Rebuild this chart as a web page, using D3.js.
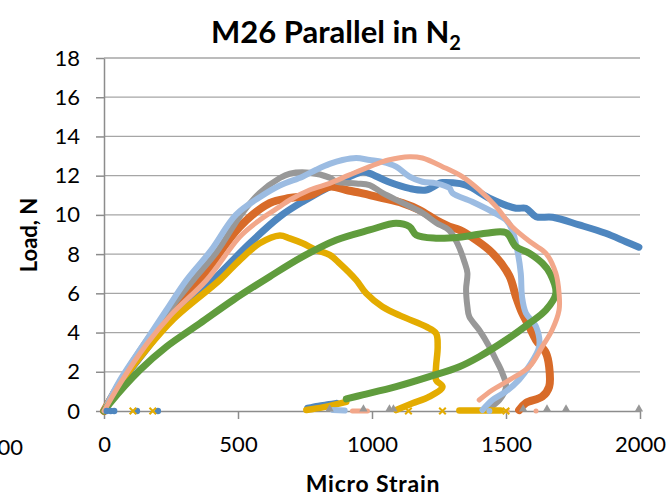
<!DOCTYPE html>
<html>
<head>
<meta charset="utf-8">
<script src="https://cdn.jsdelivr.net/npm/d3@7"></script>
<style>
  body { margin: 0; background: #fff; }
  svg { display: block; font-family: Lato, "Open Sans", sans-serif; }
</style>
</head>
<body>
<div id="chart"></div>
<script>
// values: [micro strain, load N]
const blue = [[0,0],[50,1.2],[150,3.0],[250,4.7],[408,6.68],[540,8.5],[656,9.91],[741,10.67],[867,11.61],[965,12.2],[991,12.12],[1061,11.69],[1140,11.35],[1202,11.27],[1251,11.61],[1263,11.65],[1351,11.52],[1438,10.85],[1537,10.34],[1574,10.34],[1612,9.91],[1674,9.88],[1773,9.49],[1872,9.06],[1947,8.63],[1996,8.35]];
const orange = [[0,0],[60,1.4],[159,3.4],[240,4.9],[358,6.68],[507,9.4],[618,10.6],[693,10.86],[767,11.0],[842,11.44],[904,11.27],[965,11.1],[1039,10.86],[1114,10.6],[1177,10.25],[1239,9.74],[1289,9.4],[1326,9.23],[1388,8.72],[1449,8.06],[1512,6.9],[1537,5.83],[1560,5.0],[1587,4.3],[1612,3.62],[1649,2.96],[1661,2.26],[1661,1.24],[1635,0.73],[1574,0.41],[1549,0.05]];
const gray = [[0,0],[60,1.5],[159,3.6],[240,5.1],[333,6.68],[420,8.1],[511,10.0],[581,11.12],[656,11.88],[693,12.1],[767,12.15],[842,11.9],[867,11.69],[941,11.6],[991,11.52],[1039,11.12],[1114,10.61],[1188,10.1],[1239,9.6],[1289,9.2],[1320,8.5],[1345,7.6],[1356,7.04],[1351,6.2],[1356,5.32],[1363,4.81],[1400,4.13],[1438,3.28],[1463,2.6],[1486,1.94],[1500,1.24],[1475,0.56],[1425,0.05]];
const yellow = [[0,0],[50,1.2],[150,3.0],[260,4.7],[432,6.68],[507,7.7],[581,8.55],[656,8.95],[693,8.8],[741,8.55],[792,8.21],[842,7.96],[879,7.53],[941,6.68],[978,6.0],[1039,5.32],[1114,4.81],[1202,4.3],[1239,3.96],[1245,3.28],[1239,2.26],[1239,1.58],[1263,1.24],[1214,0.73],[1151,0.39],[1090,0.05]];
const lightBlue = [[0,0],[60,1.58],[159,3.62],[233,5.15],[308,6.68],[400,8.2],[492,10.0],[581,10.9],[656,11.5],[741,11.95],[792,12.3],[842,12.6],[890,12.8],[941,12.9],[991,12.8],[1039,12.7],[1090,12.46],[1140,11.95],[1188,11.69],[1239,11.61],[1289,11.37],[1300,11.12],[1374,10.67],[1449,10.16],[1500,9.74],[1523,9.23],[1542,8.21],[1555,7.04],[1560,5.8],[1574,5.0],[1612,4.3],[1624,3.3],[1587,2.3],[1549,1.6],[1500,1.0],[1449,0.56],[1412,0.05]];
const green = [[0,0],[22,0.4],[134,2.09],[233,3.28],[358,4.47],[482,5.66],[618,6.85],[741,7.87],[867,8.72],[991,9.23],[1090,9.57],[1140,9.4],[1165,8.97],[1239,8.81],[1326,8.86],[1425,9.06],[1500,9.09],[1537,8.38],[1587,8.04],[1636,7.53],[1665,7.0],[1686,6.0],[1649,5.15],[1587,4.47],[1500,3.62],[1400,2.77],[1326,2.26],[1214,1.75],[1090,1.24],[965,0.82],[904,0.62]];
const salmon = [[0,0],[60,1.4],[159,3.4],[250,4.9],[383,6.68],[507,8.89],[581,9.74],[656,10.42],[693,10.76],[767,11.27],[842,11.61],[916,12.04],[991,12.46],[1061,12.8],[1140,12.97],[1188,12.9],[1263,12.46],[1337,11.95],[1400,11.27],[1463,10.42],[1523,9.4],[1598,8.55],[1649,8.04],[1686,7.02],[1698,6.0],[1698,5.15],[1672,4.13],[1635,3.28],[1587,2.26],[1512,1.58],[1449,1.07],[1400,0.56]];

// short pieces lying on the axis after the break
const blueTail = [[760,0.14],[800,0.25],[840,0.33],[867,0.39]];
const yellowTail = [[755,0.05],[820,0.2],[904,0.47]];
const yellowBar = [[1326,0.03],[1480,0.03]];
const lightBlueTail = [[854,0.05],[898,0.02]];
const salmonTail = [[927,0],[983,0]];

// stray points on the axis
const bluePts = [10, 25, 38, 123, 201];
const yellowPts = [108, 182, 1136, 1263, 1500];
const grayPts = [842, 968, 1065, 1080, 1564, 1653, 1724, 1996];
const salmonPts = [1505, 1612];
const lightBluePts = [1438];

const yTicks = [0, 2, 4, 6, 8, 10, 12, 14, 16, 18];
const xTicks = [0, 500, 1000, 1500, 2000];

const colors = {
  blue: '#4e86bf', orange: '#d86b29', gray: '#989898', yellow: '#e4ac00',
  lightBlue: '#9cbce2', green: '#609c3d', salmon: '#f2a78a',
};

const width = 671;
const height = 496;
const svg = d3.select('#chart').append('svg').attr('width', width).attr('height', height);

const x = d3.scaleLinear().domain([0, 2000]).range([104, 640]);
const y = d3.scaleLinear().domain([0, 18]).range([411, 58]);

// horizontal gridlines
svg.append('g').selectAll('line').data(yTicks.filter(d => d > 0)).join('line')
  .attr('x1', x(0)).attr('x2', x(2000))
  .attr('y1', d => y(d)).attr('y2', d => y(d))
  .attr('stroke', '#a6a6a6').attr('stroke-width', 1.3);

// axes
const yAxis = svg.append('g').attr('transform', `translate(${x(0)},0)`)
  .call(d3.axisLeft(y).tickValues(yTicks).tickSize(8).tickPadding(16).tickSizeOuter(0));
const xAxis = svg.append('g').attr('transform', `translate(0,${y(0)})`)
  .call(d3.axisBottom(x).tickValues(xTicks).tickFormat(d3.format('d'))
    .tickSize(8).tickPadding(17).tickSizeOuter(0));
[xAxis, yAxis].forEach((g) => {
  g.select('.domain').attr('stroke', '#8c8c8c').attr('stroke-width', 1.5);
  g.selectAll('.tick line').attr('stroke', '#8c8c8c').attr('stroke-width', 1.5);
  g.selectAll('.tick text').attr('fill', '#000').style('font-size', '22px').style('font-family', 'Lato, sans-serif');
});

// tail of the neighbouring chart's last label, cut by the frame
svg.append('text').attr('x', 23).attr('y', y(0) + 44).attr('text-anchor', 'end')
  .style('font-size', '22px').text(xTicks[xTicks.length - 1]);

// the data are dense marker runs, a smooth line through the read points stands in for them
const line = d3.line().x(d => x(d[0])).y(d => y(d[1])).curve(d3.curveCatmullRom.alpha(0.5));

const series = [
  { data: blue, tail: [blueTail], color: colors.blue, w: 7 },
  { data: orange, tail: [], color: colors.orange, w: 8 },
  { data: gray, tail: [], color: colors.gray, w: 6 },
  { data: yellow, tail: [yellowTail, yellowBar], color: colors.yellow, w: 6.5 },
  { data: lightBlue, tail: [lightBlueTail], color: colors.lightBlue, w: 6 },
  { data: green, tail: [], color: colors.green, w: 7 },
  { data: salmon, tail: [salmonTail], color: colors.salmon, w: 5 },
];

const plot = svg.append('g');
series.forEach((s) => {
  [s.data].concat(s.tail).forEach((pts) => {
    plot.append('path').attr('d', line(pts)).attr('fill', 'none')
      .attr('stroke', s.color).attr('stroke-width', s.w)
      .attr('stroke-linejoin', 'round').attr('stroke-linecap', 'round');
  });
});

// markers on the axis
plot.selectAll('circle.b').data(bluePts).join('circle')
  .attr('cx', d => x(d)).attr('cy', y(0)).attr('r', 3.2).attr('fill', colors.blue);
plot.selectAll('circle.lb').data(lightBluePts).join('circle')
  .attr('cx', d => x(d)).attr('cy', y(0)).attr('r', 3).attr('fill', colors.lightBlue);
plot.selectAll('circle.s').data(salmonPts).join('circle')
  .attr('cx', d => x(d)).attr('cy', y(0)).attr('r', 2.5).attr('fill', colors.salmon);
plot.selectAll('path.tri').data(grayPts).join('path')
  .attr('d', d3.symbol(d3.symbolTriangle, 30))
  .attr('transform', d => `translate(${x(d)},${y(0) - 2})`).attr('fill', colors.gray);
plot.selectAll('path.cross').data(yellowPts).join('path')
  .attr('d', d3.symbol(d3.symbolX, 30))
  .attr('transform', d => `translate(${x(d)},${y(0)})`)
  .attr('stroke', colors.yellow).attr('stroke-width', 2).attr('fill', 'none');

// titles
const title = svg.append('text').attr('x', 336).attr('y', 43).attr('text-anchor', 'middle')
  .style('font-size', '31px').style('font-weight', 'bold');
title.append('tspan').text('M26 Parallel in N');
title.append('tspan').attr('dy', 7).style('font-size', '20px').text('2');

svg.append('text').attr('x', 373).attr('y', 492).attr('text-anchor', 'middle')
  .style('font-size', '23px').style('font-weight', 'bold').style('letter-spacing', '0.8px')
  .text('Micro Strain');

svg.append('text').attr('transform', 'translate(37,235) rotate(-90)').attr('text-anchor', 'middle')
  .style('font-size', '22px').style('font-weight', 'bold').text('Load, N');
</script>
</body>
</html>
